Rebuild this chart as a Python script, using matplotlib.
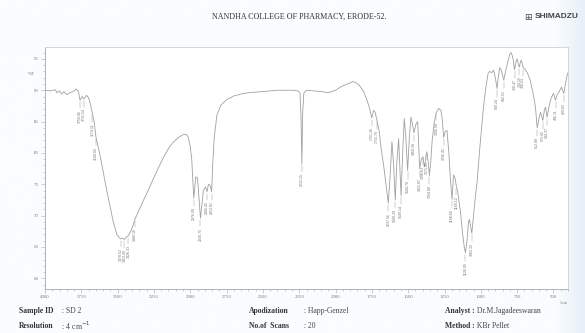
import numpy as np
import matplotlib
matplotlib.use("Agg")
import matplotlib.pyplot as plt
from matplotlib.ticker import MultipleLocator, FixedLocator

# spectrum (wavenumber 1/cm, %T)
wavenumber = [
    4000, 3960, 3930, 3917, 3900, 3885, 3870, 3850, 3828, 3800, 3785, 3770,
    3759, 3745, 3731, 3715, 3700, 3688, 3674, 3662, 3649, 3620, 3598, 3575,
    3552, 3530, 3506, 3490, 3478, 3465, 3453, 3440, 3426, 3410, 3393, 3380,
    3360, 3325, 3290, 3256, 3220, 3187, 3150, 3118, 3080, 3050, 3030, 3015,
    3000, 2990, 2976, 2962, 2950, 2930, 2910, 2895, 2885, 2875, 2862, 2853,
    2845, 2835, 2817, 2790, 2750, 2700, 2650, 2600, 2500, 2400, 2300, 2260,
    2245, 2238, 2232, 2226, 2218, 2200, 2150, 2100, 2050, 2000, 1960, 1920,
    1898, 1880, 1852, 1830, 1807, 1785, 1772, 1760, 1751, 1738, 1728, 1715,
    1700, 1685, 1669, 1650, 1637, 1625, 1612, 1600, 1589, 1578, 1566, 1558,
    1549, 1538, 1527, 1515, 1504, 1492, 1481, 1470, 1460, 1448, 1435, 1428,
    1421, 1410, 1398, 1390, 1386, 1378, 1371, 1362, 1354, 1345, 1335, 1320,
    1306, 1290, 1275, 1266, 1256, 1245, 1233, 1220, 1210, 1198, 1188, 1178,
    1168, 1160, 1140, 1125, 1114, 1106, 1095, 1085, 1079, 1070, 1062, 1050,
    1040, 1026, 1010, 995, 982, 965, 950, 940, 925, 912, 900, 889,
    880, 870, 860, 842, 830, 815, 800, 790, 778, 768, 758, 750,
    742, 734, 728, 722, 714, 708, 695, 680, 660, 640, 624, 612,
    600, 589, 580, 573, 563, 555, 549, 544, 530, 515, 500, 486,
    475, 460, 445, 436, 429, 418, 405, 400,
]
transmittance = [
    90.0, 89.9, 90.1, 89.6, 89.9, 89.4, 89.8, 89.3, 89.6, 89.9, 90.2, 89.8,
    88.4, 89.0, 88.6, 89.2, 88.8, 87.8, 86.3, 85.0, 82.5, 79.5, 76.8, 74.0,
    71.4, 69.0, 67.0, 66.5, 66.3, 66.4, 66.2, 66.6, 66.8, 67.5, 68.5, 69.5,
    70.5, 72.3, 74.0, 75.8, 77.6, 79.2, 80.7, 81.7, 82.5, 82.9, 83.0, 82.6,
    81.0, 79.0, 72.8, 76.2, 76.0, 69.6, 74.0, 74.6, 73.8, 75.0, 74.8, 73.8,
    78.5, 82.5, 86.0, 87.6, 88.5, 89.1, 89.4, 89.6, 89.8, 90.0, 90.0, 89.9,
    89.6, 86.0, 78.3, 86.5, 89.6, 90.0, 89.9, 89.8, 89.6, 90.0, 90.6, 91.0,
    91.2, 91.4, 91.1, 90.6, 89.8, 88.5, 87.6, 86.5, 85.6, 86.8, 86.5, 85.2,
    83.5, 80.5, 78.0, 74.5, 72.0, 76.0, 81.8, 78.0, 72.5, 78.5, 82.3, 78.0,
    73.2, 80.0, 85.5, 82.0, 77.2, 82.5, 85.7, 84.5, 83.2, 84.5, 85.0, 81.5,
    77.5, 79.0, 79.4, 78.0, 77.8, 79.5, 80.2, 78.5, 76.4, 78.5, 82.0, 85.0,
    86.5, 87.1, 86.8, 85.5, 82.5, 83.4, 83.6, 80.0, 76.0, 72.6, 76.5, 76.0,
    74.6, 74.0, 70.5, 67.0, 65.0, 64.1, 66.0, 69.0, 69.4, 68.2, 67.2, 70.0,
    72.5, 75.3, 80.0, 84.0, 87.3, 90.5, 92.7, 93.0, 92.8, 93.2, 92.0, 90.3,
    92.0, 93.6, 93.3, 91.6, 93.0, 94.5, 95.8, 96.0, 95.0, 93.3, 94.6, 95.0,
    94.2, 93.7, 94.5, 94.8, 94.2, 93.6, 93.3, 92.8, 91.6, 89.5, 87.3, 84.0,
    85.5, 86.5, 85.8, 85.2, 86.8, 87.3, 86.4, 85.7, 87.5, 88.8, 89.5, 88.4,
    89.3, 89.8, 90.5, 89.9, 89.5, 91.0, 92.5, 92.8,
]

# picked peaks (labels are hard to read on the scan, values estimated)
peak_wn = [3759, 3731, 3674, 3649, 3478, 3453, 3426, 3380,
           2976, 2930, 2885, 2853, 2232, 1751, 1715, 1637, 1589, 1549,
           1504, 1460, 1421, 1398, 1371, 1354, 1306, 1256, 1198, 1168,
           1106, 1062, 889, 842, 768, 734, 708, 612, 573, 544, 486, 429]
peak_text = ["3759.86", "3731.54", "3674.11", "3649.02", "3478.52", "3453.49",
             "3426.33", "3380.16", "2976.09", "2930.75", "2885.42", "2853.81",
             "2232.15", "1751.36", "1715.70", "1637.56", "1589.29", "1549.14",
             "1504.78", "1460.38", "1421.87", "1398.63", "1371.25", "1354.08",
             "1306.94", "1256.41", "1198.68", "1168.12", "1106.09", "1062.33",
             "889.24", "842.51", "768.47", "734.15", "708.63", "612.88",
             "573.42", "544.37", "486.11", "429.65"]

x_ticks = [4000, 3750, 3500, 3250, 3000, 2750, 2500, 2250, 2000, 1750,
           1500, 1250, 1000, 750, 500]
y_ticks = [60, 65, 70, 75, 80, 85, 90, 95]

info_left = [("Sample ID", " : SD 2"), ("Resolution", " : 4 cm$^{-1}$")]
info_mid = [("Apodization", " : Happ-Genzel"), ("No.of  Scans", " : 20")]
info_right = [("Analyst :", " Dr.M.Jagadeeswaran"), ("Method :", " KBr Pellet")]

W, H = 585, 333
fig = plt.figure(figsize=(W / 100, H / 100), dpi=100)

# faint bluish tint of the scanned page towards the right edge
bg = fig.add_axes([0, 0, 1, 1], zorder=-5)
gx = np.linspace(0, 1, 300)
tint = np.clip((gx - 0.95) / 0.05, 0, 1)[None, :] * 0.5
bg.imshow(tint, extent=[0, 1, 0, 1], aspect="auto", cmap="Blues",
          vmin=0, vmax=3, alpha=0.6)
bg.set_axis_off()

ax = fig.add_axes([45 / W, 1 - 289 / H, (568 - 45) / W, (289 - 47) / H])
ax.set_facecolor("white")

grey = "#a8a8a8"
ax.plot(wavenumber, transmittance, color="#a0a0a0", lw=0.6)
ax.set_xlim(4000, 400)
ax.set_ylim(58.3, 96.9)

for s in ax.spines.values():
    s.set_color("#d0d0d0")
    s.set_linewidth(0.6)
ax.spines["left"].set_color(grey)
ax.spines["bottom"].set_color(grey)

ax.xaxis.set_major_locator(FixedLocator(x_ticks))
ax.xaxis.set_minor_locator(MultipleLocator(50))
ax.yaxis.set_major_locator(FixedLocator(y_ticks))
ax.yaxis.set_minor_locator(MultipleLocator(1))
ax.tick_params(which="both", colors=grey, labelcolor="#7a7a7a",
               labelsize=3.5, width=0.4, direction="out")
ax.tick_params(which="major", length=3, pad=1.5)
ax.tick_params(which="minor", length=1.5)
ax.set_xticklabels([str(v) for v in x_ticks], family="Liberation Serif")
ax.set_yticklabels([str(v) for v in y_ticks], family="Liberation Serif")

# %T label sits between 95 and 90
ax.text(-0.02, 92.6, "%T", transform=ax.get_yaxis_transform(), ha="right",
        va="center", fontsize=3.5, color="#7a7a7a", family="Liberation Serif")
ax.text(1.0, -0.05, "1/cm", transform=ax.transAxes, ha="right", va="top",
        fontsize=3, color="#7a7a7a", family="Liberation Serif")

# peak markers with vertical labels
t_at = np.interp(peak_wn, wavenumber[::-1], transmittance[::-1])
for w, t, lab in zip(peak_wn, t_at, peak_text):
    ax.plot([w, w], [t - 0.3, t - 1.3], color="#a0a0a0", lw=0.35)
    ax.text(w, t - 1.5, lab, rotation=90, ha="center", va="top",
            fontsize=2.6, color="#777777", family="Liberation Sans")

# header
fig.text(299 / W, 1 - 17 / H, "NANDHA COLLEGE OF PHARMACY, ERODE-52.",
         ha="center", va="center", fontsize=5.8, family="Liberation Serif",
         color="#333333")
fig.text(535 / W, 1 - 17 / H, "SHIMADZU", ha="left", va="center",
         fontsize=6, family="Liberation Sans", weight="bold", color="#444444")
fig.text(528 / W, 1 - 17 / H, "\u229e", ha="center", va="center",
         fontsize=6.5, color="#444444", family="DejaVu Sans")

# footer
rows = [1 - 311 / H, 1 - 326 / H]
for col_x, val_x, items in [(19, 60, info_left), (249, 302, info_mid),
                             (445, 0, info_right)]:
    for yy, (lab, val) in zip(rows, items):
        t = fig.text(col_x / W, yy, lab, ha="left", va="center", fontsize=5.5,
                     family="Liberation Serif", weight="bold", color="#333333")
        if val_x:
            fig.text(val_x / W, yy, val, ha="left", va="center", fontsize=5.5,
                     family="Liberation Serif", color="#444444")
        else:
            fig.canvas.draw()
            bb = t.get_window_extent()
            fig.text(bb.x1 / W, yy, val, ha="left", va="center", fontsize=5.5,
                     family="Liberation Serif", color="#444444")

fig.savefig("out.png", dpi=100, facecolor="white")
